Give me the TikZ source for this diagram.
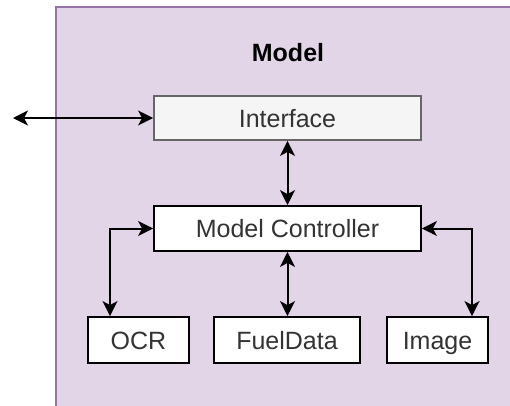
\documentclass[tikz,border=0pt]{standalone}
\usepackage{fontspec}
\setmainfont{Liberation Sans}
\usetikzlibrary{arrows.meta}
\definecolor{modelfill}{HTML}{E1D5E7}
\definecolor{modeldraw}{HTML}{9673A6}
\definecolor{iffill}{HTML}{F5F5F5}
\definecolor{ifdraw}{HTML}{666666}
\definecolor{txt}{HTML}{333333}
\tikzset{
  box/.style={draw=black, fill=white, line width=1.8pt, rectangle, inner sep=0pt,
    text=txt, font=\fontsize{25}{30}\selectfont, text height=18.5pt, text depth=0pt},
  arr/.style={line width=2pt, draw=black, {Stealth[length=15pt,width=15pt,inset=4pt]}-{Stealth[length=15pt,width=15pt,inset=4pt]}},
}
\begin{document}
\begin{tikzpicture}[x=1pt,y=-1pt]
\useasboundingbox (0,0) rectangle (510,405);
\clip (0,0) rectangle (510,405);
\fill[white] (0,0) rectangle (510,405);
\draw[fill=modelfill, draw=modeldraw, line width=2pt] (56,7) rectangle (530,425);
\node[font=\bfseries\fontsize{25}{30}\selectfont, text=black] (title) at (288,53) {Model};
\node[box, fill=iffill, draw=ifdraw, minimum width=267pt, minimum height=44pt] (iface) at (287.5,118) {Interface};
\node[box, minimum width=267pt, minimum height=45pt] (ctrl) at (287.5,228.5) {Model Controller};
\node[box, minimum width=101pt, minimum height=46pt] (ocr) at (138.5,340) {OCR};
\node[box, minimum width=146pt, minimum height=46pt] (fuel) at (287,340) {FuelData};
\node[box, minimum width=101pt, minimum height=46pt] (img) at (437.5,340) {Image};
\coordinate (ext) at (13,118);
\coordinate (ocrin) at ([xshift=-28.5pt]ocr.north);
\coordinate (imgin) at ([xshift=34.5pt]img.north);
\draw[arr] (ext) -- (iface.west);
\draw[arr] (iface.south) -- (ctrl.north);
\draw[arr] (ctrl.south) -- (ctrl.south |- fuel.north);
\draw[arr] (ctrl.west) -| (ocrin);
\draw[arr] (ctrl.east) -| (imgin);
\end{tikzpicture}
\end{document}
